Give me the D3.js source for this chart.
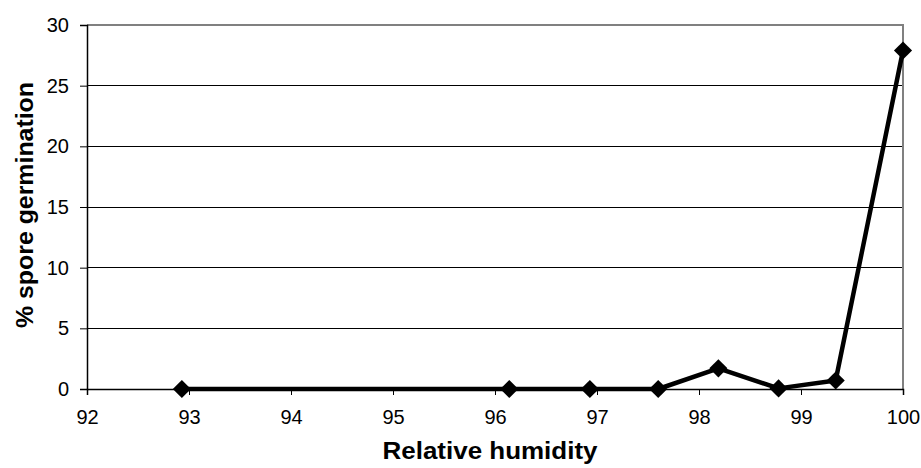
<!DOCTYPE html>
<html><head><meta charset="utf-8">
<script src="https://cdn.jsdelivr.net/npm/d3@7"></script>
<style>body{margin:0;background:#fff}svg{display:block}</style>
</head><body>
<svg id="c" width="921" height="468"></svg>
<script>
const humidity = [92.93, 96.14, 96.93, 97.6, 98.19, 98.78, 99.34, 100];
const germination = [0, 0, 0, 0, 1.7, 0.05, 0.7, 27.9];
const xTicks = [92, 93, 94, 95, 96, 97, 98, 99, 100];
const yTicks = [0, 5, 10, 15, 20, 25, 30];

const svg = d3.select("#c");
const L = 87, R = 903, T = 25, B = 389;
const x = d3.scaleLinear().domain([92, 100]).range([L, R]);
const y = d3.scaleLinear().domain([0, 30]).range([B, T]);
const font = "Liberation Sans, Arial, sans-serif";

// gridlines
svg.append("g").selectAll("line").data(yTicks.filter(d => d > 0 && d < 30)).join("line")
  .attr("x1", L).attr("x2", R).attr("y1", d => y(d)).attr("y2", d => y(d))
  .attr("stroke", "#000").attr("stroke-width", 1).attr("shape-rendering", "crispEdges");
// top & right border gray
svg.append("path").attr("d", `M${L},${T}H${R}V${B}`).attr("fill", "none")
  .attr("stroke", "#808080").attr("stroke-width", 2);

// axes
const yAxis = svg.append("g").attr("transform", `translate(${L},0)`)
  .call(d3.axisLeft(y).tickValues(yTicks).tickSize(7).tickPadding(11));
const xAxis = svg.append("g").attr("transform", `translate(0,${B})`)
  .call(d3.axisBottom(x).tickValues(xTicks).tickSize(6).tickPadding(15));
[yAxis, xAxis].forEach(g => {
  g.attr("font-size", 20).attr("font-family", font);
  g.selectAll("text").attr("fill", "#000");
  g.selectAll("line").attr("stroke", "#000");
  g.select(".domain").attr("stroke", "#000").attr("stroke-width", 1.5);
});

// line
const pts = humidity.map((h, i) => [h, germination[i]]);
svg.append("path").datum(pts)
  .attr("d", d3.line().x(d => x(d[0])).y(d => y(d[1])))
  .attr("fill", "none").attr("stroke", "#000").attr("stroke-width", 4.5).attr("stroke-linejoin", "round");
svg.append("g").selectAll("path").data(pts).join("path")
  .attr("transform", d => `translate(${x(d[0])},${y(d[1])})`)
  .attr("d", d3.symbol(d3.symbolDiamond2, 210))
  .attr("fill", "#000");

// titles
svg.append("text").attr("x", 490).attr("y", 459).attr("text-anchor", "middle")
  .attr("font-family", font).attr("font-weight", "bold").attr("font-size", 23)
  .attr("textLength", 215).attr("lengthAdjust", "spacingAndGlyphs").text("Relative humidity");
svg.append("text").attr("transform", `translate(33,205) rotate(-90)`).attr("text-anchor", "middle")
  .attr("font-family", font).attr("font-weight", "bold").attr("font-size", 23)
  .attr("textLength", 246).attr("lengthAdjust", "spacingAndGlyphs").text("% spore germination");
</script>
</body></html>
